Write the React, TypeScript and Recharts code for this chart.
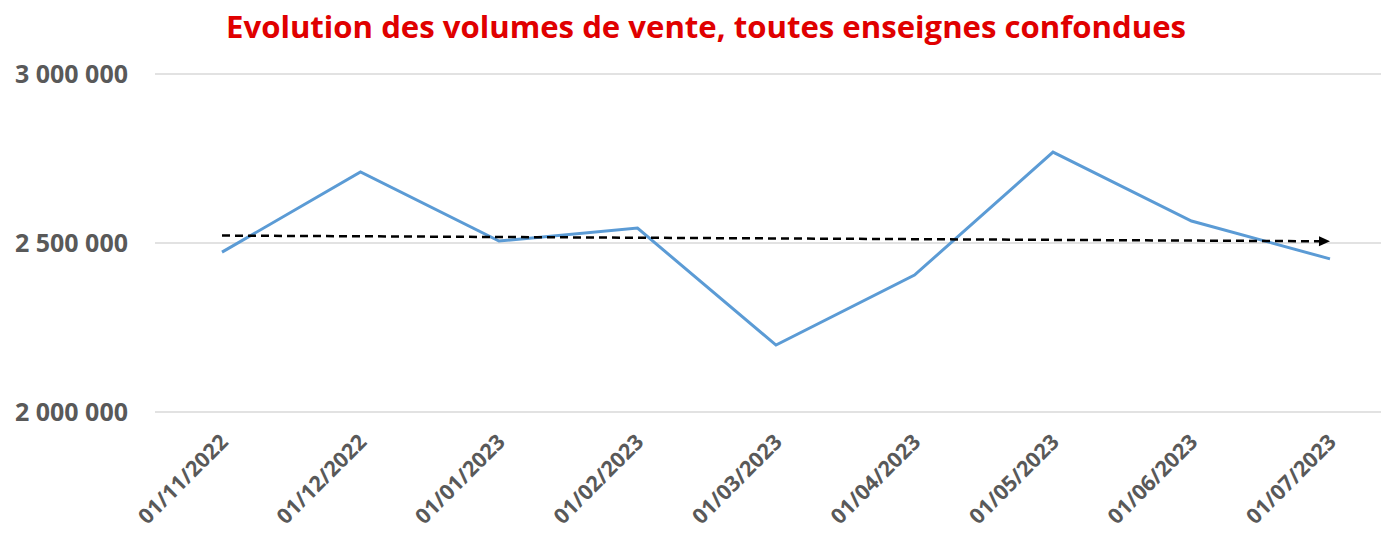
import { LineChart, Line, XAxis, YAxis, CartesianGrid, ReferenceLine } from 'recharts'

const months = [
  '01/11/2022', '01/12/2022', '01/01/2023', '01/02/2023', '01/03/2023',
  '01/04/2023', '01/05/2023', '01/06/2023', '01/07/2023',
]
const volumes = [2473000, 2710000, 2506000, 2544000, 2198000, 2405000, 2769000, 2565000, 2453000]
const trendEnds = [2522000, 2505000]
const yTicks = [2000000, 2500000, 3000000]

const data = months.map((m, i) => ({ month: m, volume: volumes[i] }))

const fmt = (v: number) => v.toLocaleString('fr-FR').replace(/\u202f|\u00a0/g, ' ')

// eslint-disable-next-line @typescript-eslint/no-explicit-any
function DateTick({ x, y, payload }: any) {
  return (
    <g transform={`translate(${x + 2},${y + 18})`}>
      <text
        textAnchor="end"
        transform="rotate(-45)"
        dy="0.35em"
        fill="#595959"
        fontSize={21.5}
        fontWeight={700}
        fontFamily="'Open Sans', sans-serif"
      >
        {payload.value}
      </text>
    </g>
  )
}

// eslint-disable-next-line @typescript-eslint/no-explicit-any
function TrendArrow({ x1, y1, x2, y2 }: any) {
  const ang = Math.atan2(y2 - y1, x2 - x1)
  const len = 11
  const w = 5
  const bx = x2 - len * Math.cos(ang)
  const by = y2 - len * Math.sin(ang)
  const px = -Math.sin(ang) * w
  const py = Math.cos(ang) * w
  return (
    <g>
      <line x1={x1} y1={y1} x2={bx} y2={by} stroke="#000" strokeWidth={2.5} strokeDasharray="8 5" />
      <polygon points={`${x2},${y2} ${bx + px},${by + py} ${bx - px},${by - py}`} fill="#000" />
    </g>
  )
}

export default function App() {
  return (
    <div style={{ position: 'absolute', left: 0, top: 0, width: 1381, height: 533, background: '#fff' }}>
      <svg width={1381} height={60} style={{ position: 'absolute', left: 0, top: 0 }}>
        <text
          x={706}
          y={38}
          textAnchor="middle"
          fill="#E00000"
          fontSize={31}
          fontWeight={700}
          fontFamily="'Open Sans', sans-serif"
          textLength={960}
          lengthAdjust="spacingAndGlyphs"
        >
          Evolution des volumes de vente, toutes enseignes confondues
        </text>
      </svg>
      <LineChart
        width={1381}
        height={533}
        data={data}
        margin={{ top: 74, right: 0, bottom: 0, left: 0 }}
      >
        <CartesianGrid vertical={false} stroke="#D9D9D9" strokeWidth={1.5} />
        <XAxis
          dataKey="month"
          scale="point"
          padding={{ left: 67, right: 51 }}
          axisLine={false}
          tickLine={false}
          height={121}
          interval={0}
          tick={<DateTick />}
        />
        <YAxis
          domain={[2000000, 3000000]}
          ticks={yTicks}
          width={155}
          axisLine={false}
          tickLine={false}
          tickMargin={21}
          tickFormatter={fmt}
          tick={{ fill: '#595959', fontSize: 25, fontWeight: 700, fontFamily: "'Open Sans', sans-serif" }}
        />
        <Line
          dataKey="volume"
          stroke="#5B9BD5"
          strokeWidth={3}
          dot={false}
          isAnimationActive={false}
        />
        <ReferenceLine
          segment={[
            { x: months[0], y: trendEnds[0] },
            { x: months[months.length - 1], y: trendEnds[1] },
          ]}
          shape={<TrendArrow />}
        />
      </LineChart>
    </div>
  )
}
